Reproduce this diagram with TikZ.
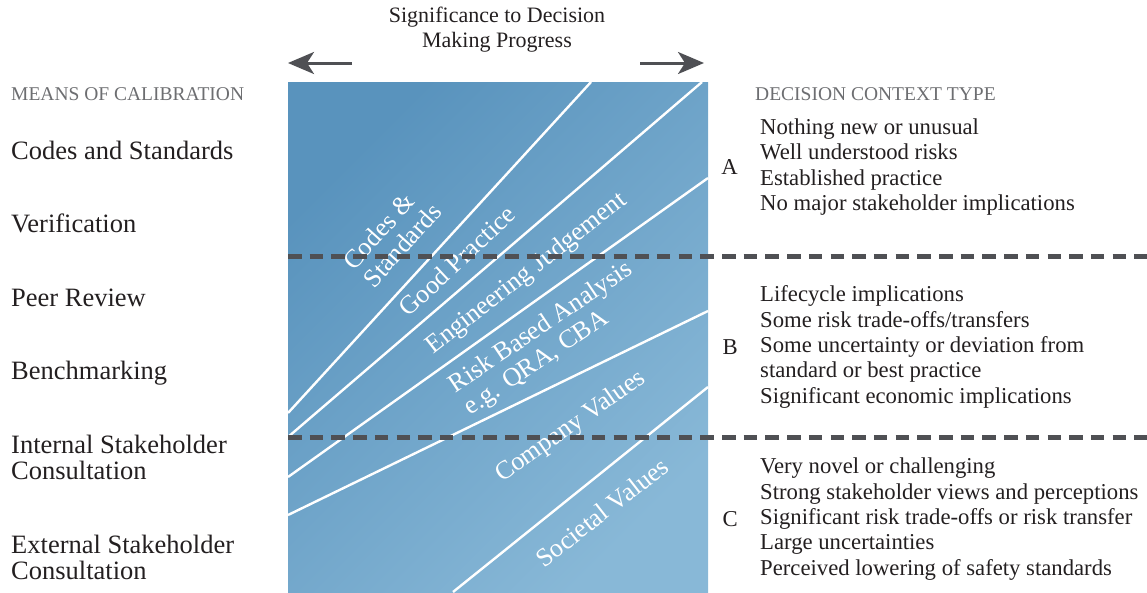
\documentclass[tikz,border=0pt]{standalone}
\usepackage{fontspec}
\setmainfont{Liberation Serif}
\usetikzlibrary{positioning,arrows.meta}

\definecolor{boxdark}{HTML}{5993BD}
\definecolor{boxlight}{HTML}{88B8D7}
\definecolor{dashgray}{HTML}{4F5054}
\definecolor{headgray}{HTML}{6D6E71}
\definecolor{inkblack}{HTML}{231F20}

\tikzset{
  means/.style={anchor=base west, inner sep=0pt, text=inkblack, font=\fontsize{26.5}{26}\selectfont},
  meanstwo/.style={means, anchor=west, align=left},
  heading/.style={anchor=base west, inner sep=0pt, text=headgray, font=\fontsize{19.5}{22}\selectfont},
  context/.style={anchor=west, inner sep=0pt, align=left, text=inkblack, font=\fontsize{22.7}{25.3}\selectfont},
  ctype/.style={inner sep=0pt, text=inkblack, font=\fontsize{22.7}{25}\selectfont},
  band/.style={inner sep=0pt, align=left, text=white, font=\fontsize{26}{27}\selectfont},
  wline/.style={white, line width=2.4pt},
  sepline/.style={dashgray, line width=5pt, dash pattern=on 13.5pt off 8.2pt},
  sigarrow/.style={->, dashgray, line width=3pt}
}

\begin{document}
\begin{tikzpicture}[x=1pt, y=-1pt, >={Stealth[length=26pt, width=22pt, inset=7pt]}]
  \useasboundingbox (0,0) rectangle (1147,592);

  % the shaded panel and its bands
  \shade[top color=boxdark, bottom color=boxlight, shading angle=45] (288,82) rectangle (708,592);
  \draw[wline] (288,413) -- (591,82);
  \draw[wline] (288,437) -- (702,82);
  \draw[wline] (288,477) -- (708,178);
  \draw[wline] (288,515) -- (708,311);
  \draw[wline] (453,592) -- (708,387);

  \node[band, rotate=48] (lblcodes) at (392,236) {Codes \&\\Standards};
  \node[band, rotate=43] (lblgood) at (457,261) {Good Practice};
  \node[band, rotate=38] (lbleng) at (527,274) {Engineering Judgement};
  \node[band, rotate=34] (lblrisk) at (549,339) {Risk Based Analysis\\e.g. QRA, CBA};
  \node[band, rotate=35] (lblcomp) at (571,427) {Company Values};
  \node[band, rotate=38] (lblsoc) at (602,512) {Societal Values};

  \draw[sepline] (288,256) -- (1147,256);
  \draw[sepline] (288,437) -- (1147,437);

  % significance arrows
  \node[align=center, inner sep=0pt, text=inkblack, font=\fontsize{22}{25}\selectfont] (signif) at (497,30)
    {Significance to Decision\\Making Progress};
  \coordinate (lefttail) at (352,63);
  \coordinate (lefttip) at (288,63);
  \coordinate (righttail) at (640,63);
  \coordinate (righttip) at (704,63);
  \draw[sigarrow] (lefttail) -- (lefttip);
  \draw[sigarrow] (righttail) -- (righttip);

  % means of calibration
  \node[heading] (means) at (11,100) {MEANS OF CALIBRATION};
  \node[means] (codes) at (11,159) {Codes and Standards};
  \node[means] (verif) at (11,232) {Verification};
  \node[means] (peer) at (11,306) {Peer Review};
  \node[means] (bench) at (11,379) {Benchmarking};
  \node[meanstwo] (internal) at (11,457) {Internal Stakeholder\\Consultation};
  \node[meanstwo] (external) at (11,557) {External Stakeholder\\Consultation};

  % decision context type
  \node[heading] (ctxtype) at (755,100) {DECISION CONTEXT TYPE};
  \node[context] (grpA) at (760,167) {Nothing new or unusual\\Well understood risks\\Established practice\\No major stakeholder implications};
  \node[context] (grpB) at (760,347) {Lifecycle implications\\Some risk trade-offs/transfers\\Some uncertainty or deviation from\\standard or best practice\\Significant economic implications};
  \node[context] (grpC) at (760,519) {Very novel or challenging\\Strong stakeholder views and perceptions\\Significant risk trade-offs or risk transfer\\Large uncertainties\\Perceived lowering of safety standards};
  \node[ctype, left=22pt of grpA] (typeA) {A};
  \node[ctype, left=22pt of grpB] (typeB) {B};
  \node[ctype, left=22pt of grpC] (typeC) {C};
\end{tikzpicture}
\end{document}
